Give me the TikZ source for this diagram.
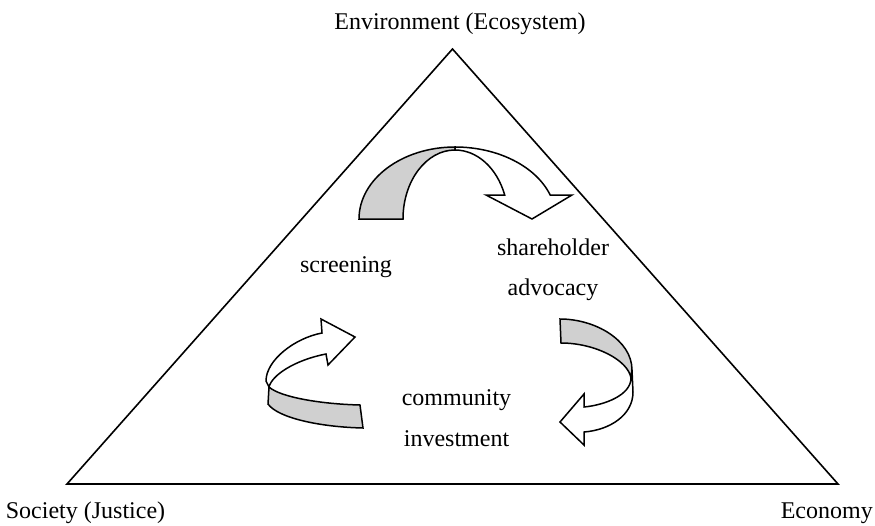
\documentclass[tikz,border=0pt]{standalone}
\usepackage{fontspec}
\setmainfont{Liberation Serif}
\definecolor{shade}{RGB}{208,208,208}
\begin{document}
\begin{tikzpicture}[x=1pt,y=-1pt,
  txt/.style={font=\fontsize{24}{28}\selectfont, inner sep=0pt, anchor=base},
  edge/.style={line width=1.6pt, line join=miter},
  ribbon/.style={draw=black, line width=1.5pt, line join=miter, fill=#1}]
\useasboundingbox (0,0) rectangle (875,525);

% the triangle
\coordinate (apex) at (452.5,49);
\coordinate (sw) at (67,484);
\coordinate (se) at (838,484);
\draw[edge] (apex) -- (sw) -- (se) -- cycle;

% corner labels
\node[txt] (env) at (460,29) {Environment (Ecosystem)};
\node[txt] (soc) at (85.5,518) {Society (Justice)};
\node[txt, anchor=base east] (eco) at (873,518) {Economy};

% inner labels
\node[txt] (scr) at (346,272) {screening};
\node[txt] (sha) at (553,255.5) {shareholder};
\node[txt] (adv) at (553,295.5) {advocacy};
\node[txt] (com) at (456.5,405) {community};
\node[txt] (inv) at (456.5,446) {investment};

% top curved arrow: back face, then front face with head
\filldraw[ribbon=shade] (359,219) .. controls (359,179.2) and (402,147) .. (455,147)
  -- (455,150) .. controls (426.3,150) and (403,180.9) .. (403,219) -- cycle;
\filldraw[ribbon=white] (455,150) .. controls (477.2,150) and (497,168) .. (504.7,195)
  -- (486,195) -- (532,219) -- (572,195) -- (550.2,195)
  .. controls (535.9,166.2) and (497.8,147) .. (455,147) -- cycle;

% right curved arrow
\filldraw[ribbon=shade] (560,319) .. controls (595,319) and (632,340) .. (632,370)
  -- (631,378) .. controls (628,360) and (595,343) .. (561,343) -- cycle;
\filldraw[ribbon=white] (631,378) -- (632,370) -- (633,392)
  .. controls (633,415) and (610,430) .. (584,432)
  -- (584,445) -- (560,422) -- (584,394) -- (584,407)
  .. controls (605,405) and (631,395) .. (631,378) -- cycle;

% lower left curved arrow
\filldraw[ribbon=shade] (269,387) .. controls (280,397) and (320,404) .. (360,405)
  -- (363,428) .. controls (320,427) and (278,418) .. (268,404) -- cycle;
\filldraw[ribbon=white] (269,387) -- (266,381) .. controls (266,360) and (295,338) .. (322,333)
  -- (321,319) -- (355,337) -- (328,365) -- (326,354)
  .. controls (295,360) and (272,375) .. (269,387) -- cycle;
\end{tikzpicture}
\end{document}
